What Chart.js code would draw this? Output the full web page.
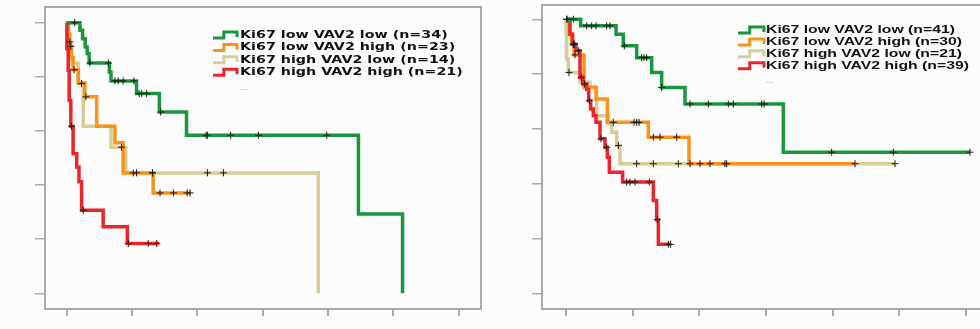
<!DOCTYPE html>
<html>
<head>
<meta charset="utf-8">
<script src="https://cdn.jsdelivr.net/npm/chart.js@4.4.1/dist/chart.umd.min.js"></script>
<style>
  html, body { margin: 0; padding: 0; background: #fcfcfc; }
  .wrap { position: absolute; top: 0; height: 329px; overflow: hidden; }
  #w1 { left: 0; width: 490px; }
  #w2 { left: 490px; width: 490px; }
</style>
</head>
<body>
<div class="wrap" id="w1"><canvas id="c1" width="490" height="329"></canvas></div>
<div class="wrap" id="w2"><canvas id="c2" width="500" height="329"></canvas></div>
<script>
// tick positions (no labels are printed in the figure)
const xTicks = [0, 20, 40, 60, 80, 100, 120];
const yTicks = [0, 0.2, 0.4, 0.6, 0.8, 1.0];

const groupColors = ["#1a9641", "#f7931e", "#d5ce98", "#e9262c"];

// ---- left panel ----
const leftLabels = [
  "Ki67 low VAV2 low (n=34)",
  "Ki67 low VAV2 high (n=23)",
  "Ki67 high VAV2 low (n=14)",
  "Ki67 high VAV2 high (n=21)",
];
const L_greenT = [0, 4.1, 4.9, 5.7, 6.3, 6.9, 13.1, 13.6, 21.4, 28.4, 36.7, 89.3, 102.8];
const L_greenS = [1, 0.972, 0.941, 0.91, 0.886, 0.851, 0.818, 0.785, 0.738, 0.670, 0.584, 0.293, 0];
const L_greenC = [2.5, 7.1, 12.8, 14.8, 15.8, 17.3, 20.6, 22.2, 23.0, 24.5, 28.8, 42.7, 43.1, 50.2, 58.7, 79.6];
const L_greenEnd = 102.8;

const L_orangeT = [0, 0.5, 1.0, 1.5, 2.0, 3.6, 5.6, 9.2, 14.8, 17.3, 26.5];
const L_orangeS = [1, 0.957, 0.913, 0.870, 0.826, 0.777, 0.726, 0.617, 0.556, 0.445, 0.371];
const L_orangeC = [1.3, 2.3, 5.9, 20.4, 21.4, 26.3, 28.6, 32.7, 36.9, 37.8];
const L_orangeEnd = 37.8;

const L_beigeT = [0, 0.7, 1.2, 3.5, 5.1, 13.6, 18.1, 77.0];
const L_beigeS = [1, 0.929, 0.851, 0.775, 0.617, 0.54, 0.445, 0];
const L_beigeC = [1.0, 4.6, 16.8, 26.3, 43.1, 48.0];
const L_beigeEnd = 77.0;

const L_redT = [0, 0.1, 0.5, 0.8, 1.3, 2.0, 3.1, 3.8, 4.6, 11.2, 18.6];
const L_redS = [1, 0.904, 0.824, 0.713, 0.617, 0.516, 0.467, 0.412, 0.307, 0.246, 0.184];
const L_redC = [1.5, 5.1, 18.9, 25.0, 27.6];
const L_redEnd = 28.3;

// ---- right panel ----
const rightLabels = [
  "Ki67 low VAV2 low (n=41)",
  "Ki67 low VAV2 high (n=30)",
  "Ki67 high VAV2 low (n=21)",
  "Ki67 high VAV2 high (n=39)",
];
const R_greenT = [0, 4.4, 15.0, 17.2, 21.2, 25.7, 28.7, 35.7, 65.2];
const R_greenS = [1, 0.976, 0.945, 0.903, 0.860, 0.806, 0.751, 0.691, 0.515];
const R_greenC = [0.2, 2.2, 6.2, 7.7, 9.0, 12.2, 13.2, 17.5, 22.7, 23.4, 24.2, 28.7, 37.2, 42.7, 48.7, 50.2, 58.7, 59.4, 79.7, 98.2, 121.2];
const R_greenEnd = 121.2;

const R_orangeT = [0, 1.0, 1.7, 2.4, 5.4, 9.0, 12.4, 24.7, 36.9];
const R_orangeS = [1, 0.945, 0.909, 0.870, 0.752, 0.709, 0.624, 0.570, 0.473];
const R_orangeC = [2.2, 2.7, 14.2, 20.4, 21.2, 21.9, 26.2, 28.2, 33.2, 37.2, 40.2, 43.2, 47.7, 48.2, 86.7];
const R_orangeEnd = 86.7;

const R_beigeT = [0, 0.05, 0.2, 0.7, 4.2, 7.2, 9.2, 12.7, 13.7, 15.2, 16.2];
const R_beigeS = [1, 0.946, 0.855, 0.806, 0.770, 0.751, 0.648, 0.620, 0.588, 0.539, 0.473];
const R_beigeC = [0.9, 15.7, 21.2, 26.2, 33.7, 98.7];
const R_beigeEnd = 98.7;

const R_redT = [0, 1.2, 2.0, 3.0, 4.2, 5.0, 6.2, 6.8, 7.4, 8.2, 9.0, 10.2, 11.7, 12.4, 13.0, 17.0, 26.2, 27.2, 27.7];
const R_redS = [1, 0.945, 0.909, 0.885, 0.788, 0.764, 0.745, 0.703, 0.673, 0.648, 0.624, 0.564, 0.533, 0.497, 0.442, 0.406, 0.339, 0.269, 0.179];
const R_redC = [0.3, 2.2, 2.6, 3.8, 4.6, 5.6, 7.0, 10.5, 12.2, 18.2, 19.2, 20.7, 25.0, 27.4, 30.7, 31.4];
const R_redEnd = 31.4;

// survival value of a step curve at time t
function survAt(times, surv, t) {
  let s = surv[0];
  for (let i = 0; i < times.length; i++) if (times[i] <= t) s = surv[i];
  return s;
}

function group(times, surv, censors, end) {
  const pts = times.map((t, i) => ({ x: t, y: surv[i] }));
  if (end > times[times.length - 1]) pts.push({ x: end, y: surv[surv.length - 1] });
  const marks = censors.map(t => ({ x: t, y: survAt(times, surv, t) }));
  return { pts, marks };
}

// draw frame box around the plot area
const framePlugin = {
  id: "frame",
  beforeDatasetsDraw(chart) {
    const a = chart.chartArea, ctx = chart.ctx;
    ctx.save();
    ctx.strokeStyle = "#a9a9a9";
    ctx.lineWidth = 2;
    ctx.strokeRect(a.left, a.top, a.right - a.left, a.bottom - a.top);
    ctx.restore();
  },
};

// legend with little step icons, drawn inside the plot
const kmLegend = {
  id: "kmLegend",
  afterDatasetsDraw(chart, args, o) {
    const ctx = chart.ctx;
    ctx.save();
    ctx.font = "bold " + o.size + "px " + o.family;
    ctx.textBaseline = "middle";
    o.labels.forEach((lab, i) => {
      const y = o.y0 + i * o.dy;
      ctx.strokeStyle = groupColors[i];
      ctx.lineWidth = 3;
      ctx.lineJoin = "miter";
      ctx.beginPath();
      ctx.moveTo(o.ix, y + 3);
      ctx.lineTo(o.ix + o.iw * 0.45, y + 3);
      ctx.lineTo(o.ix + o.iw * 0.45, y - 3);
      ctx.lineTo(o.ix + o.iw, y - 3);
      ctx.lineTo(o.ix + o.iw, y + 2);
      ctx.stroke();
      ctx.save();
      ctx.translate(o.tx, y);
      ctx.scale(o.sx, 1);
      ctx.fillStyle = "#111";
      ctx.fillText(lab, 0, 0);
      ctx.restore();
    });
    ctx.fillStyle = "#aaa";
    ctx.font = "9px " + o.family;
    ctx.fillText("...", o.tx, o.y0 + 4 * o.dy + 3);
    ctx.restore();
  },
};

function makeChart(id, groups, ranges, box, legend) {
  const order = [2, 1, 3, 0]; // beige lowest, then orange, green, red on top
  const datasets = [];
  groups.forEach((g, i) => {
    datasets.push({
      type: "line",
      data: g.pts,
      stepped: "before",
      borderColor: groupColors[i],
      borderWidth: 3.5,
      pointRadius: 0,
      fill: false,
      order: 10 - order.indexOf(i),
    });
  });
  groups.forEach((g) => {
    datasets.push({
      type: "scatter",
      data: g.marks,
      pointStyle: "cross",
      pointRadius: 3.5,
      borderColor: "#1a1a1a",
      borderWidth: 1,
      order: 0,
    });
  });

  return new Chart(document.getElementById(id), {
    type: "line",
    data: { datasets },
    plugins: [framePlugin, kmLegend],
    options: {
      responsive: false,
      animation: false,
      layout: { padding: { top: box.top, right: box.right, left: 0, bottom: 0 } },
      plugins: {
        legend: { display: false },
        tooltip: { enabled: false },
        kmLegend: legend,
      },
      scales: {
        x: {
          type: "linear",
          min: ranges.xMin,
          max: ranges.xMax,
          afterBuildTicks: (s) => { s.ticks = xTicks.map((v) => ({ value: v })); },
          afterFit: (s) => { s.height = box.bottom; },
          ticks: { display: false },
          border: { display: false },
          grid: { drawOnChartArea: false, drawTicks: true, tickLength: 7, color: "#aaa", lineWidth: 2 },
        },
        y: {
          type: "linear",
          min: ranges.yMin,
          max: ranges.yMax,
          afterBuildTicks: (s) => { s.ticks = yTicks.map((v) => ({ value: v })); },
          afterFit: (s) => { s.width = box.left; },
          ticks: { display: false },
          border: { display: false },
          grid: { drawOnChartArea: false, drawTicks: true, tickLength: 10, color: "#aaa", lineWidth: 1.5 },
        },
      },
    },
  });
}

makeChart(
  "c1",
  [
    group(L_greenT, L_greenS, L_greenC, L_greenEnd),
    group(L_orangeT, L_orangeS, L_orangeC, L_orangeEnd),
    group(L_beigeT, L_beigeS, L_beigeC, L_beigeEnd),
    group(L_redT, L_redS, L_redC, L_redEnd),
  ],
  { xMin: -6.6, xMax: 126.8, yMin: -0.058, yMax: 1.058 },
  { top: 7, right: 9, left: 45, bottom: 20 },
  { labels: leftLabels, family: "'DejaVu Sans'", size: 10.5, sx: 1.36, tx: 240, ix: 213, iw: 24, y0: 35, dy: 12.4 }
);

makeChart(
  "c2",
  [
    group(R_greenT, R_greenS, R_greenC, R_greenEnd),
    group(R_orangeT, R_orangeS, R_orangeC, R_orangeEnd),
    group(R_beigeT, R_beigeS, R_beigeC, R_beigeEnd),
    group(R_redT, R_redS, R_redC, R_redEnd),
  ],
  { xMin: -7.2, xMax: 125.7, yMin: -0.057, yMax: 1.052 },
  { top: 4, right: 5, left: 52, bottom: 20 },
  { labels: rightLabels, family: "'Liberation Sans'", size: 11.5, sx: 1.37, tx: 276, ix: 248, iw: 26, y0: 30, dy: 11.9 }
);
</script>
</body>
</html>
